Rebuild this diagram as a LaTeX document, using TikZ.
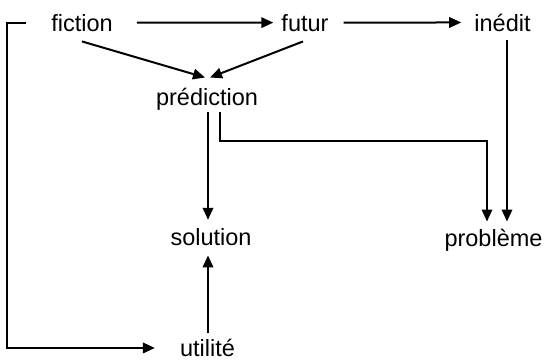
\documentclass[tikz,border=0pt]{standalone}
\usepackage{fontspec}
\setmainfont{Liberation Sans}
\usetikzlibrary{arrows.meta,calc}
\begin{document}
\begin{tikzpicture}[x=1pt,y=-1pt,
  lbl/.style={inner sep=0pt,anchor=base,font=\fontsize{23.5}{28}\selectfont},
  conn/.style={line width=2pt},
  arr/.style={conn,-{Triangle[length=12pt,width=10.5pt]}}]
\useasboundingbox (0,0) rectangle (547,360);
\node[lbl] (fiction) at (82,31) {fiction};
\node[lbl] (futur) at (305,31) {futur};
\node[lbl] (inedit) at (502.5,31) {inédit};
\node[lbl] (prediction) at (207,105) {prédiction};
\node[lbl] (solution) at (211,245) {solution};
\node[lbl] (probleme) at (493.5,246) {problème};
\node[lbl] (utilite) at (207.5,356.5) {utilité};
% top row
\draw[arr] ([xshift=24pt]fiction.east) -- ([xshift=-8pt]futur.west);
\draw[arr] ([xshift=15pt]futur.east) -- ([xshift=-13pt]inedit.west);
% converging on prediction
\draw[arr] ([yshift=-10pt]fiction.south) -- ($(prediction.north)+(-2,-10)$);
\draw[arr] ([xshift=-2pt,yshift=-10pt]futur.south) -- ($(prediction.north)+(3,-10)$);
% prediction to solution
\coordinate (ps) at ($(prediction.south)+(1,2)$);
\coordinate (sn) at ($(solution.north)+(0,-8)$);
\draw[arr] (ps) -- (ps |- sn);
% prediction to probleme
\coordinate (pp) at ($(prediction.south)+(13,2)$);
\draw[arr] (pp) -- ++(0,29) -| ($(probleme.north)+(-6.5,-7)$);
% inedit to probleme
\coordinate (ia) at ($(inedit.south)+(4.5,9)$);
\coordinate (pn) at ($(probleme.north)+(0,-7)$);
\draw[arr] (ia) -- (ia |- pn);
% utilite to solution
\coordinate (ua) at ($(utilite.north)+(0.5,-6)$);
\coordinate (ss) at ($(solution.south)+(0,10)$);
\draw[arr] (ua) -- (ua |- ss);
% left loop
\draw[arr] ([xshift=-25pt]fiction.west) -- ++(-19,0) |- ([xshift=-25pt]utilite.west);
\end{tikzpicture}
\end{document}
